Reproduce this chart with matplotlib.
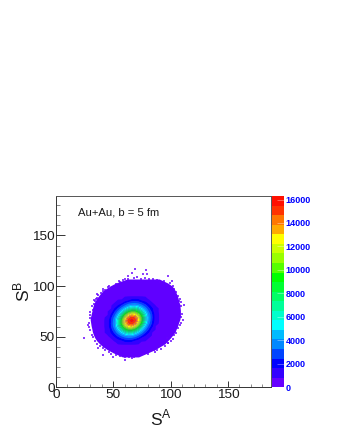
import matplotlib
matplotlib.use("Agg")
import matplotlib.pyplot as plt
import numpy as np
from matplotlib.colors import ListedColormap, BoundaryNorm
from matplotlib.cm import ScalarMappable

plt.rcParams['font.family'] = ['Liberation Sans', 'DejaVu Sans']
plt.rcParams['mathtext.fontset'] = 'custom'
plt.rcParams['mathtext.rm'] = 'Liberation Sans'

palette = ['#6600ff', '#3300ff', '#0000ff', '#0044ff', '#0088ff', '#00bbff', '#00ffff',
           '#00ffcc', '#00ff99', '#00ff66', '#00ff33', '#00ff00', '#55ff00', '#99ff00',
           '#ccff00', '#ffff00', '#ffaa00', '#ff7700', '#ff3300', '#ff1000']
z_max = 16300
cbar_ticks = [0, 2000, 4000, 6000, 8000, 10000, 12000, 14000, 16000]

# outline of the populated region, per S^B value
row_y = [30, 34, 37, 40, 43, 46, 49, 52, 55, 58, 61, 64, 67, 70, 73, 76, 79, 82, 85, 88, 91, 94, 97, 100, 103, 107]
row_left = [58, 50, 45, 41, 38, 35.5, 33.8, 32.6, 31.7, 31.2, 30.6, 30.2, 29.8, 30.2, 30.8, 31.5, 32, 32.8,
            34, 35.6, 37.6, 39.8, 43, 47, 52, 62]
row_right = [72, 80, 86, 90.5, 95, 97.5, 100, 102, 104, 105, 106.2, 107, 108, 108.5, 108.5, 108.5, 108.2,
             108, 107, 106.5, 105.6, 104.5, 103.3, 101.3, 97.5, 90]

# isolated occupied bins around the edge
stray_x = [68.9, 78.5, 66, 79.6, 75.6, 97.9, 63.1, 100.8, 46.5, 41.3, 34, 107.5, 111.6, 29.6, 28.2, 24.7, 110.4,
           103.8, 97.9, 85.7, 90.7, 41.3, 60.2, 66, 50, 36.9, 96.5, 35.5, 55.8,
           45, 47, 43, 41, 39, 37, 36, 35, 33, 33, 31, 32, 30,
           52, 55, 58, 60, 63, 68, 71, 74, 78, 81, 85, 88, 91, 94, 97, 99, 102, 103, 105, 106, 108, 109,
           109, 110, 109, 109, 108, 106, 105, 103, 102, 100, 98, 95, 92, 88, 86,
           80, 76, 72, 68, 64, 60, 56, 52, 48, 46, 43, 41, 38, 36, 34, 32, 31, 30, 29, 29, 30]
stray_y = [117.1, 116.1, 112.9, 112.2, 112.2, 109.5, 109.5, 104.6, 100.3, 94.7, 84.8, 84.8, 81.5, 71.6, 61.7, 48.5,
           66.7, 56.8, 43.8, 37.1, 40.4, 32, 27.2, 28.9, 30.3, 38.6, 48.5, 88.1, 103.6,
           99, 97, 96, 97, 93, 91, 92, 87, 86, 82, 80, 76, 74,
           102, 105, 106, 107, 107, 108, 109, 107, 108, 107, 107, 106, 104, 105, 101, 103, 100, 97, 94, 90, 87, 84,
           80, 72, 69, 64, 62, 59, 54, 52, 48, 46, 44, 41, 38, 37, 35,
           33, 33, 31, 30, 30, 30, 31, 32, 33, 35, 37, 39, 41, 43, 46, 50, 52, 57, 60, 64, 68]

# central peak, counts in hundreds, S^B rows from low to high, S^A columns from low to high
core_x = [42, 45, 48, 51, 54, 57, 60, 63, 66, 69, 72, 75, 78, 81, 84, 87, 90]
core_y = [42, 45, 48, 51, 54, 57, 60, 63, 66, 69, 72, 75, 78, 81, 84, 87, 90]
core_a = [8, 8, 8, 8, 8, 8, 8, 8, 8, 8, 8, 8, 8, 8, 8, 8, 8]
core_b = [8, 8, 8, 8, 9, 12, 17, 18, 17, 12, 9, 8, 8, 8, 8, 8, 8]
core_c = [8, 8, 8, 12, 19, 23, 27, 29, 28, 25, 20, 12, 9, 8, 8, 8, 8]
core_d = [8, 8, 12, 20, 27, 35, 42, 46, 45, 40, 32, 24, 17, 9, 8, 8, 8]
core_e = [8, 9, 18, 26, 38, 51, 63, 70, 69, 62, 49, 36, 25, 17, 8, 8, 8]
core_f = [8, 9, 21, 33, 50, 69, 87, 98, 99, 89, 72, 52, 35, 23, 12, 8, 8]
core_g = [8, 12, 24, 39, 60, 85, 109, 126, 129, 118, 96, 70, 47, 29, 18, 8, 8]
core_h = [8, 12, 25, 41, 65, 95, 124, 145, 151, 141, 116, 86, 58, 36, 22, 9, 8]
core_i = [8, 12, 24, 40, 64, 95, 127, 151, 160, 151, 127, 95, 64, 40, 24, 12, 8]
core_j = [8, 9, 22, 36, 58, 86, 116, 141, 151, 145, 124, 95, 65, 41, 25, 12, 8]
core_k = [8, 8, 18, 29, 47, 70, 96, 118, 129, 126, 109, 85, 60, 39, 24, 12, 8]
core_l = [8, 8, 12, 23, 35, 52, 72, 89, 99, 98, 87, 69, 50, 33, 21, 9, 8]
core_m = [8, 8, 8, 17, 25, 36, 49, 62, 69, 70, 63, 51, 38, 26, 18, 9, 8]
core_n = [8, 8, 8, 9, 17, 24, 32, 40, 45, 46, 42, 35, 27, 20, 12, 8, 8]
core_o = [8, 8, 8, 8, 9, 12, 20, 25, 28, 29, 27, 23, 19, 12, 8, 8, 8]
core_p = [8, 8, 8, 8, 8, 8, 9, 12, 17, 18, 17, 12, 9, 8, 8, 8, 8]
core_q = [8, 8, 8, 8, 8, 8, 8, 8, 8, 8, 8, 8, 8, 8, 8, 8, 8]
core_rows = [core_a, core_b, core_c, core_d, core_e, core_f, core_g, core_h, core_i,
             core_j, core_k, core_l, core_m, core_n, core_o, core_p, core_q]

annotation = 'Au+Au, b = 5 fm'
x_label = r'$\mathrm{S}^{\mathrm{A}}$'
y_label = r'$\mathrm{S}^{\mathrm{B}}$'

W, H = 340, 440
fig = plt.figure(figsize=(W / 100, H / 100), dpi=100, facecolor='white')
ax = fig.add_axes([56 / W, 1 - 387.3 / H, (271 - 56) / W, (387.3 - 196) / H])

levels = np.linspace(0, z_max, 21)
cmap = ListedColormap(palette)
norm = BoundaryNorm(levels, cmap.N)

ax.fill_betweenx(row_y, row_left, row_right, color='#6000ff', lw=0, zorder=1)
ax.scatter(stray_x, stray_y, marker='s', s=1.6, color=palette[0], lw=0, alpha=0.75, zorder=1)

core = np.array(core_rows) * 100.0
ax.contourf(core_x, core_y, core, levels=levels[1:], cmap=ListedColormap(palette[1:]),
            norm=BoundaryNorm(levels[1:], 19), zorder=2, antialiased=True)

ax.set_xlim(0, 187.5)
ax.set_ylim(0, 189)
ax.set_xticks([0, 50, 100, 150])
ax.set_yticks([0, 50, 100, 150])
ax.set_xticks(np.arange(0, 181, 10), minor=True)
ax.set_yticks(np.arange(0, 181, 10), minor=True)
ax.tick_params(axis='x', which='major', direction='in', length=4.5, width=0.7, color='#333333',
               labelsize=9.7, pad=1.5, labelcolor='#1a1a1a')
ax.tick_params(axis='y', which='major', direction='in', length=6.5, width=0.7, color='#333333',
               labelsize=9.7, pad=1, labelcolor='#1a1a1a')
ax.tick_params(axis='x', which='minor', direction='in', length=2.2, width=0.6, color='#777777')
ax.tick_params(axis='y', which='minor', direction='in', length=3.2, width=0.6, color='#777777')
for side in ['top', 'right']:
    ax.spines[side].set_color('#555555')
    ax.spines[side].set_linewidth(0.7)
for side in ['left', 'bottom']:
    ax.spines[side].set_color('#333333')
    ax.spines[side].set_linewidth(0.7)

fig.text(78 / W, 1 - 212 / H, annotation, fontsize=8.1, va='center', ha='left', color='#1a1a1a')
fig.text(161 / W, 1 - 418 / H, x_label, fontsize=12.5, va='center', ha='center', color='#1a1a1a')
fig.text(22 / W, 1 - 291 / H, y_label, fontsize=12.5, va='center', ha='center', rotation=90, color='#1a1a1a')

cax = fig.add_axes([272 / W, 1 - 387.3 / H, 12 / W, (387.3 - 196) / H])
sm = ScalarMappable(norm=norm, cmap=cmap)
cb = fig.colorbar(sm, cax=cax, spacing='proportional', ticks=cbar_ticks, drawedges=False)
cb.outline.set_visible(False)
cb.minorticks_off()
cb.set_ticklabels([str(t) for t in cbar_ticks])
cax.tick_params(axis='y', direction='in', length=5, width=0.5, color='#ffffff80', labelsize=6.5,
                pad=1, labelcolor='#0000ff')
for lab in cax.get_yticklabels():
    lab.set_fontweight('bold')

fig.savefig('out.png', dpi=100)
